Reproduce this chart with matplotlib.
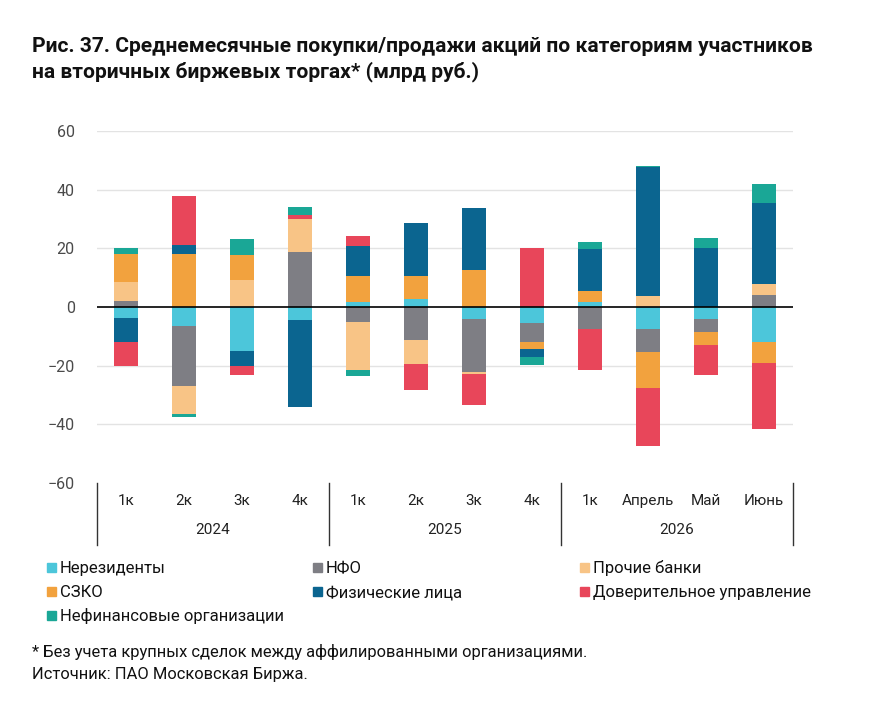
import matplotlib.pyplot as plt
import matplotlib.transforms as mtransforms
from matplotlib.patches import Rectangle
import numpy as np

categories = ["1к", "2к", "3к", "4к", "1к", "2к", "3к", "4к", "1к", "Апрель", "Май", "Июнь"]
years = ["2024", "2025", "2026"]

series_names = ["Нерезиденты", "НФО", "Прочие банки", "СЗКО", "Физические лица",
                "Доверительное управление", "Нефинансовые организации"]
nonres = [-3.8, -6.4, -15.1, -4.3, 1.7, 2.6, -4.2, -5.6, 1.8, -7.6, -4.2, -11.9]
nfo = [2.2, -20.6, 0, 18.9, -5.1, -11.1, -18.0, -6.4, -7.6, -7.6, -4.2, 4.1]
other_banks = [6.4, -9.6, 9.3, 11.0, -16.5, -8.4, -0.5, 0, 0, 3.7, 0, 3.8]
szko = [9.4, 17.9, 8.5, 0, 8.8, 7.9, 12.7, -2.2, 3.6, -12.5, -4.6, -7.3]
phys = [-8.0, 3.3, -5.1, -29.7, 10.3, 18.0, 21.1, -2.8, 14.3, 44.0, 20.0, 27.7]
du = [-8.3, 16.5, -2.9, 1.4, 3.4, -8.8, -10.7, 20.0, -13.9, -19.6, -10.2, -22.3]
nonfin = [2.1, -0.8, 5.5, 2.8, -1.8, 0, 0, -2.8, 2.3, 0.4, 3.4, 6.3]

colors = ["#4CC6DA", "#7E7E84", "#F8C486", "#F2A23E", "#0B6590", "#E8465A", "#1AA796"]

plt.rcParams["font.family"] = ["Roboto", "DejaVu Sans"]

W, H = 874, 702
fig = plt.figure(figsize=(W / 100, H / 100), dpi=100)
ax = fig.add_axes([97 / W, 1 - 483 / H, 696 / W, 352 / H])

x = np.arange(len(categories))
pos = np.zeros(len(categories))
neg = np.zeros(len(categories))
for name, vals, col in zip(series_names, [nonres, nfo, other_banks, szko, phys, du, nonfin], colors):
    v = np.array(vals)
    bottom = np.where(v >= 0, pos, neg)
    ax.bar(x, v, 0.4, bottom=bottom, color=col, label=name, zorder=3)
    pos += np.where(v >= 0, v, 0)
    neg += np.where(v < 0, v, 0)

ax.set_xlim(-0.5, len(categories) - 0.5)
ax.set_ylim(-60, 60)
ax.set_yticks(range(-60, 61, 20))
ax.tick_params(axis="y", length=0, pad=16, labelsize=11.5, labelcolor="#4a4a4a")
ax.set_xticks([])
for s in ax.spines.values():
    s.set_visible(False)
for yv in range(-40, 61, 20):
    if yv != 0:
        ax.axhline(yv, color="#E3E3E3", lw=1, zorder=1)
ax.axhline(0, color="black", lw=1.2, zorder=4)

# двухуровневая ось категорий
trans = mtransforms.blended_transform_factory(ax.transData, ax.transAxes)
for i, c in enumerate(categories):
    ax.text(i, -0.05, c, transform=trans, ha="center", va="center", fontsize=11, color="#222222")
for j, yr in enumerate(years):
    ax.text(4 * j + 1.5, -0.133, yr, transform=trans, ha="center", va="center", fontsize=11, color="#222222")
for xs in [-0.5, 3.5, 7.5, 11.5]:
    ax.plot([xs, xs], [0, -0.175], transform=trans, color="#333333", lw=1, clip_on=False)

# легенда вручную: три колонки, заполнение по строкам
col_x = [47, 313, 580]
row_y = [567, 591, 615]
for i, (name, col) in enumerate(zip(series_names, colors)):
    mx, my = col_x[i % 3], row_y[i // 3]
    fig.add_artist(Rectangle((mx / W, 1 - (my + 4.5) / H), 9 / W, 9 / H,
                             transform=fig.transFigure, color=col))
    fig.text((mx + 13) / W, 1 - my / H, name, fontsize=12, va="center_baseline", color="#111111")

fig.text(32 / W, 1 - 47 / H, "Рис. 37. Среднемесячные покупки/продажи акций по категориям участников",
         fontsize=15.1, fontweight="bold", va="center", color="#111111")
fig.text(32 / W, 1 - 72 / H, "на вторичных биржевых торгах* (млрд руб.)",
         fontsize=15.1, fontweight="bold", va="center", color="#111111")
fig.text(32 / W, 1 - 652 / H, "* Без учета крупных сделок между аффилированными организациями.",
         fontsize=11.85, va="center", color="#111111")
fig.text(32 / W, 1 - 674 / H, "Источник: ПАО Московская Биржа.",
         fontsize=11.85, va="center", color="#111111")

fig.savefig("out.png", dpi=100)
